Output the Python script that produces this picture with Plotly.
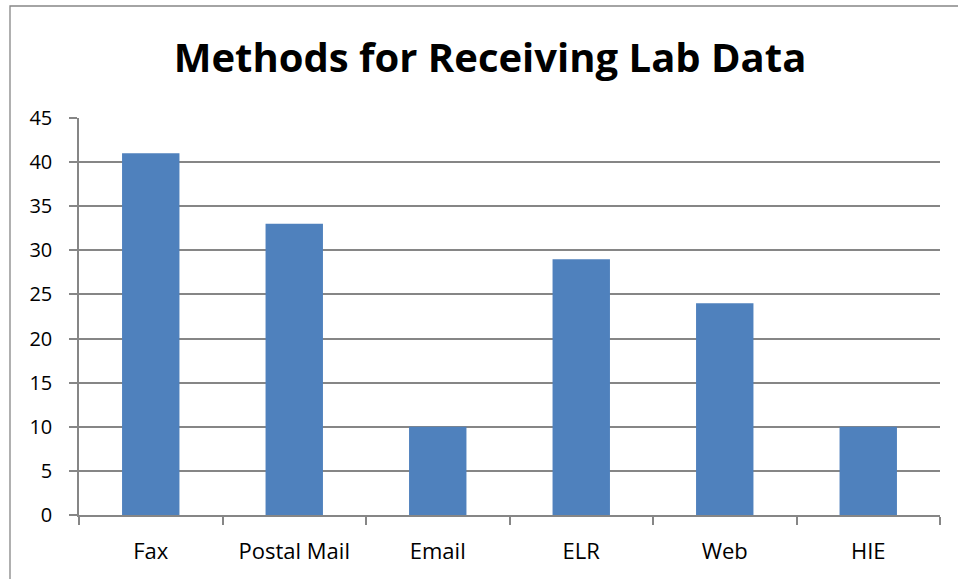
import plotly.graph_objects as go

categories = ["Fax", "Postal Mail", "Email", "ELR", "Web", "HIE"]
values = [41, 33, 10, 29, 24, 10]
y_ticks = [0, 5, 10, 15, 20, 25, 30, 35, 40, 45]

W, H = 958, 579
L, R, T, B = 79, 940, 118, 515
pw, ph = R - L, B - T

def px_x(x):
    return (x - L) / pw

def px_y(y):
    return (B - y) / ph

FONT = "Open Sans, Liberation Sans, Arial, sans-serif"
AX = "#868686"

fig = go.Figure(go.Bar(x=categories, y=values, marker=dict(color="#4F81BD", line=dict(width=0))))

fig.update_layout(
    width=W, height=H,
    margin=dict(l=L, r=W - R, t=T, b=H - B, pad=0),
    paper_bgcolor="white", plot_bgcolor="white",
    bargap=0.6,
    showlegend=False,
    font=dict(family=FONT, color="#000000", size=20),
    title=dict(text="<b>Methods for Receiving Lab Data</b>", x=490 / W, xanchor="center",
               y=1 - 58 / H, yanchor="middle",
               font=dict(size=40, family=FONT, color="#000000")),
    shapes=[dict(type="rect", xref="paper", yref="paper",
                 x0=px_x(10), x1=px_x(W + 20), y0=px_y(H + 20), y1=px_y(6),
                 line=dict(color=AX, width=1.3), fillcolor="rgba(0,0,0,0)", layer="below")],
)
fig.update_xaxes(showline=True, linecolor=AX, linewidth=1.5,
                 ticks="outside", ticklen=8, tickcolor=AX, tickwidth=1.5,
                 tickson="boundaries", showgrid=False, ticklabelstandoff=16,
                 tickfont=dict(size=22))
fig.update_yaxes(range=[0, 45], tickvals=y_ticks, showline=True, linecolor=AX, linewidth=1.5,
                 ticks="outside", ticklen=8, tickcolor=AX, tickwidth=1.5,
                 showgrid=True, gridcolor=AX, gridwidth=1.5, zeroline=False,
                 ticklabelstandoff=13, tickfont=dict(size=20))

fig.write_html("out.html", config={"displayModeBar": False},
               post_script="document.body.style.margin='0';document.body.style.overflow='hidden';")
